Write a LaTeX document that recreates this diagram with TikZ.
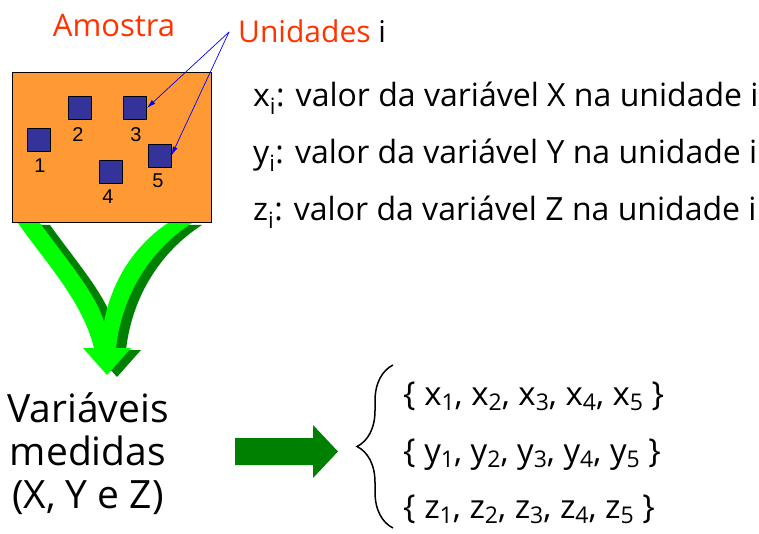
\documentclass[tikz,border=0pt]{standalone}
\usepackage{fontspec}
\setmainfont{Open Sans}
\newfontfamily\numfont{Liberation Sans}
\usepackage{tikz}
\usetikzlibrary{arrows.meta, positioning, decorations.pathreplacing}
\definecolor{sampleorange}{RGB}{255, 153, 51}
\definecolor{unitblue}{RGB}{51, 51, 153}
\definecolor{labelred}{RGB}{255, 51, 0}
\definecolor{lightgreen}{RGB}{0, 255, 0}
\definecolor{darkgreen}{RGB}{0, 128, 0}
\newcommand{\ix}[1]{\raisebox{-0.3ex}{\fontsize{23}{23}\selectfont #1}}

\begin{document}
\begin{tikzpicture}[
    x=1pt, y=-1pt,
    unitbox/.style={rectangle, draw=black, line width=0.8pt, fill=unitblue, minimum size=23pt, inner sep=0pt},
    num/.style={font=\numfont\fontsize{20}{20}\selectfont, inner sep=0pt},
    txt/.style={anchor=base west, inner sep=0pt, font=\fontsize{32}{36}\selectfont},
    settxt/.style={txt, font=\fontsize{33}{36}\selectfont},
    pointer/.style={blue, line width=0.7pt, -{Latex[length=9pt, width=5pt]}}
]
\useasboundingbox (0,0) rectangle (759,534);

% Green arrow below the sample
\fill[darkgreen, shift={(10,2)}] (18,223) .. controls (45,262) and (82,300) .. (94,348) -- (83,348) -- (107,375) -- (131,348) -- (116,348) .. controls (122,295) and (150,250) .. (192,223) -- (168,223) .. controls (135,245) and (112,280) .. (104,322) .. controls (95,292) and (65,258) .. (40,223) -- cycle;
\fill[lightgreen] (18,223) .. controls (45,262) and (82,300) .. (94,348) -- (83,348) -- (107,375) -- (131,348) -- (116,348) .. controls (122,295) and (150,250) .. (192,223) -- (168,223) .. controls (135,245) and (112,280) .. (104,322) .. controls (95,292) and (65,258) .. (40,223) -- cycle;

% Sample and its units
\node[draw=black, line width=1pt, fill=sampleorange, minimum width=199pt, minimum height=150pt, inner sep=0pt] (sample) at (111.5,148) {};
\node[unitbox] (u1) at (39,139.5) {};
\node[unitbox] (u2) at (79.5,108) {};
\node[unitbox] (u3) at (135,108) {};
\node[unitbox] (u4) at (111,172) {};
\node[unitbox] (u5) at (159.5,155.5) {};
\node[num] (n1) at (40,166) {1};
\node[num] (n2) at (78,135) {2};
\node[num] (n3) at (136,135) {3};
\node[num] (n4) at (108,197) {4};
\node[num] (n5) at (158,181) {5};

% Titles
\node[anchor=base, inner sep=0pt, font=\fontsize{31}{34}\selectfont, text=labelred] (title) at (114,37) {Amostra};
\node[anchor=base west, inner sep=0pt, font=\fontsize{30}{34}\selectfont] (unidades) at (238,43) {\textcolor{labelred}{Unidades} i};
\coordinate (src) at (229,32);
\draw[pointer] (src) -- (u3.east);
\draw[pointer] (src) -- (u5.east);

% Definitions
\node[txt] (defx) at (253,107) {x\textsubscript{i}: valor da variável X na unidade i};
\node[txt] (defy) at (253,164) {y\textsubscript{i}: valor da variável Y na unidade i};
\node[txt] (defz) at (253,221) {z\textsubscript{i}: valor da variável Z na unidade i};

% Measured variables
\node[align=center, inner sep=0pt, font=\fontsize{39}{43}\selectfont, anchor=base] (vars) at (88,508) {Variáveis\\medidas\\(X, Y e Z)};
\fill[darkgreen] (235,438) -- (313,438) -- (313,425) -- (338,451.5) -- (313,478) -- (313,465) -- (235,465) -- cycle;

% Sets of values
\coordinate (bracetop) at (393,365);
\coordinate (bracebot) at (393,528);
\draw[decorate, decoration={brace, amplitude=36pt}, line width=1.5pt] (bracebot) -- (bracetop);
\node[settxt] (setx) at (403,405) {\{ x\ix{1}, x\ix{2}, x\ix{3}, x\ix{4}, x\ix{5} \}};
\node[settxt] (sety) at (403,462) {\{ y\ix{1}, y\ix{2}, y\ix{3}, y\ix{4}, y\ix{5} \}};
\node[settxt] (setz) at (403,518) {\{ z\ix{1}, z\ix{2}, z\ix{3}, z\ix{4}, z\ix{5} \}};
\end{tikzpicture}
\end{document}
